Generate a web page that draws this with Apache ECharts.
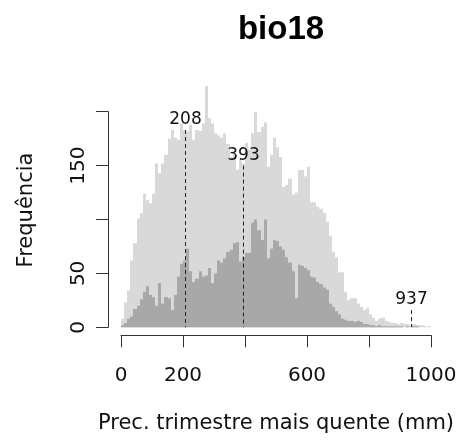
<!DOCTYPE html>
<html>
<head>
<meta charset="utf-8">
<script src="https://cdn.jsdelivr.net/npm/echarts@6/dist/echarts.min.js"></script>
<style>html,body{margin:0;padding:0;background:#fff}#c{width:461px;height:441px}</style>
</head>
<body>
<div id="c"></div>
<script>
// Histogram bins: 10 mm wide, starting at 0 mm
const binStart = 0;
const binWidth = 10;
// Light gray histogram (all records)
const allCounts = [
  8, 23, 34, 62, 78, 101, 106, 124, 118, 115,
  124, 152, 143, 152, 160, 175, 183, 176, 174, 189,
  183, 182, 188, 174, 183, 182, 189, 224, 194, 189,
  180, 178, 176, 180, 170, 158, 160, 146, 155, 152,
  171, 165, 180, 200, 181, 186, 190, 149, 160, 176,
  167, 158, 130, 132, 138, 123, 125, 146, 146, 140,
  149, 116, 116, 112, 110, 106, 98, 85, 70, 65,
  51, 51, 33, 25, 27, 27, 22, 19, 16, 18,
  12, 9, 6, 8, 9, 6, 5, 4, 4, 3,
  4, 3, 3, 2, 3, 2, 2, 2, 1, 1
];
// Dark gray histogram (subset)
const subsetCounts = [
  2, 4, 8, 10, 17, 20, 26, 33, 38, 30,
  28, 20, 41, 22, 28, 27, 16, 30, 47, 59,
  62, 73, 52, 42, 45, 52, 47, 48, 55, 41,
  50, 62, 60, 64, 70, 72, 78, 79, 61, 65,
  69, 69, 97, 100, 90, 81, 100, 64, 73, 81,
  80, 75, 72, 65, 60, 52, 27, 58, 57, 55,
  53, 47, 46, 42, 40, 37, 35, 22, 19, 15,
  12, 8, 7, 6, 6, 5, 6, 5, 3, 3,
  2, 2, 1, 2, 1, 1, 1, 1, 1, 1,
  1, 0, 1, 0, 1, 1, 0, 0, 0, 0
];
// Dashed reference lines: position (mm) and line top (frequency)
const markerValues = [208, 393, 937];
const markerTops = [183, 150, 16];
// Axis labels that are printed
const xTickLabels = [0, 200, 600, 1000];
const yTickLabels = [0, 50, 150];

const titleText = 'bio18';
const xName = 'Prec. trimestre mais quente (mm)';
const yName = 'Frequência';

function binData(counts) {
  return counts.map((v, i) => [binStart + i * binWidth, binStart + (i + 1) * binWidth, v]);
}
function histRender(color) {
  return function (params, api) {
    const p0 = api.coord([api.value(0), api.value(2)]);
    const p1 = api.coord([api.value(1), 0]);
    const x = Math.round(p0[0]);
    const w = Math.round(p1[0]) - x;
    return {
      type: 'rect',
      shape: { x: x, y: p0[1], width: w, height: p1[1] - p0[1] },
      style: { fill: color }
    };
  };
}

const chart = echarts.init(document.getElementById('c'), null, { renderer: 'canvas' });
const axisColor = '#333';
const textFont = 'DejaVu Sans';
chart.setOption({
  animation: false,
  backgroundColor: '#fff',
  title: {
    text: titleText,
    left: 276,
    textAlign: 'center',
    top: 8,
    textStyle: { fontFamily: 'Liberation Sans', fontWeight: 'bold', fontSize: 33, color: '#000' }
  },
  grid: { left: 121, right: 30, top: 111.7, bottom: 113.7 },
  xAxis: {
    type: 'value', min: 0, max: 1000, interval: 200,
    offset: 8,
    splitLine: { show: false },
    axisLine: { show: true, onZero: false, lineStyle: { color: axisColor, width: 1 } },
    axisTick: { show: true, length: 12, lineStyle: { color: axisColor } },
    axisLabel: {
      margin: 30, fontFamily: textFont, fontSize: 20, color: '#111',
      formatter: v => xTickLabels.includes(v) ? String(v) : ''
    },
    name: xName, nameLocation: 'middle', nameGap: 78,
    nameTextStyle: { fontFamily: textFont, fontSize: 21, color: '#111' }
  },
  yAxis: {
    type: 'value', min: 0, max: 200, interval: 50,
    offset: 13,
    splitLine: { show: false },
    axisLine: { show: true, onZero: false, lineStyle: { color: axisColor, width: 1 } },
    axisTick: { show: true, length: 12, lineStyle: { color: axisColor } },
    axisLabel: {
      rotate: 90, margin: 19, fontFamily: textFont, fontSize: 20, color: '#111',
      formatter: v => yTickLabels.includes(v) ? String(v) : ''
    }
  },
  graphic: [{
    type: 'text',
    x: 27, y: 210,
    rotation: Math.PI / 2,
    style: {
      text: yName, fontFamily: textFont, fontSize: 21, fill: '#111',
      textAlign: 'center', textVerticalAlign: 'middle'
    }
  }],
  series: [
    {
      type: 'custom', name: 'todos', clip: false,
      renderItem: histRender('#d9d9d9'),
      encode: { x: [0, 1], y: 2 },
      data: binData(allCounts), z: 1
    },
    {
      type: 'custom', name: 'subconjunto', clip: false,
      renderItem: histRender('#a8a8a8'),
      encode: { x: [0, 1], y: 2 },
      data: binData(subsetCounts), z: 2
    },
    {
      type: 'custom', name: 'marcas', clip: false,
      encode: { x: 0, y: 1 },
      data: markerValues.map((v, i) => [v, markerTops[i]]),
      z: 3,
      renderItem: function (params, api) {
        const top = api.coord([api.value(0), api.value(1)]);
        const bot = api.coord([api.value(0), 0]);
        const x = Math.round(top[0]) + 0.5;
        return {
          type: 'group',
          children: [
            { type: 'line', shape: { x1: x, y1: top[1], x2: x, y2: bot[1] },
              style: { stroke: '#222', lineWidth: 1, lineDash: [4, 3] } },
            { type: 'text', x: x, y: top[1] - 10,
              style: { text: String(api.value(0)), fontFamily: textFont, fontSize: 17, fill: '#111',
                       textAlign: 'center', textVerticalAlign: 'middle' } }
          ]
        };
      }
    }
  ]
});
</script>
</body>
</html>
